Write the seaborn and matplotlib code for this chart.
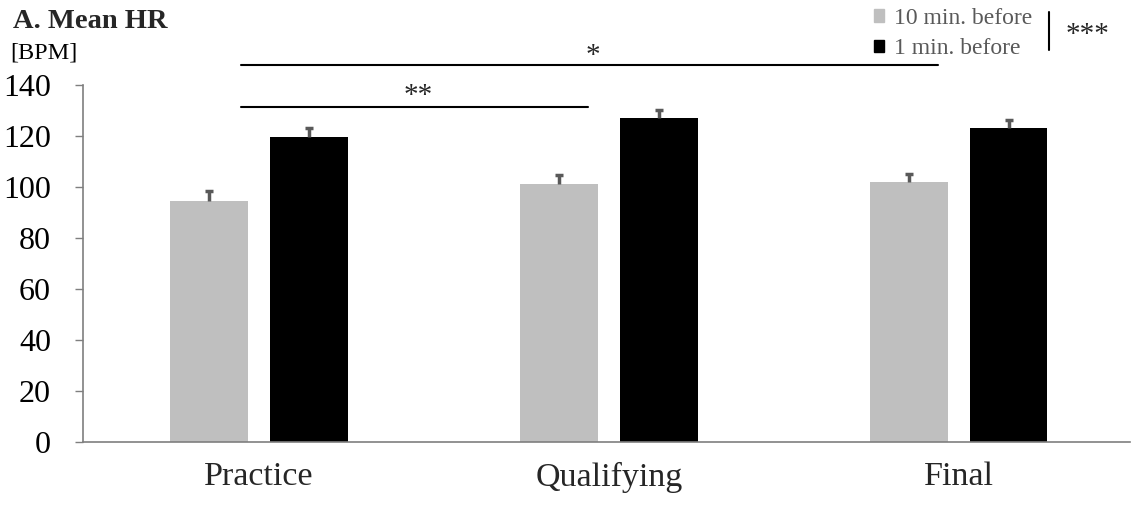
import matplotlib
matplotlib.use("Agg")
import matplotlib.pyplot as plt
import matplotlib.patches as mpatches
import seaborn as sns
import pandas as pd

# Mean heart rate per competition phase, two time points
phases = ["Practice", "Qualifying", "Final"]
timepoints = ["10 min. before", "1 min. before"]
hr_10min = [94.6, 101.0, 101.8]
hr_1min = [119.5, 127.1, 123.3]
err_10min = [3.9, 3.6, 3.4]
err_1min = [3.6, 3.1, 2.9]
y_ticks = [0, 20, 40, 60, 80, 100, 120, 140]

df = pd.DataFrame({
    "phase": phases * 2,
    "time": [timepoints[0]] * 3 + [timepoints[1]] * 3,
    "hr": hr_10min + hr_1min,
})

sns.set_theme(style="white")
plt.rcParams["font.family"] = ["Liberation Serif", "DejaVu Serif"]

W, H = 1132, 505
fig = plt.figure(figsize=(W / 100, H / 100), dpi=100)
ax = fig.add_axes([83 / W, 1 - 442 / H, 1 - 83 / W - 2 / W, (442 - 85) / H])

colors = {"10 min. before": "#bfbfbf", "1 min. before": "#000000"}
sns.barplot(data=df, x="phase", y="hr", hue="time", order=phases,
            hue_order=timepoints, palette=colors, errorbar=None,
            width=0.571, gap=0.22, ax=ax, legend=False, linewidth=0)

# one-sided (upper) error bars placed at each bar's center
errs = err_10min + err_1min
vals = hr_10min + hr_1min
bars = ax.patches[:6]
for bar, v, e in zip(bars, vals, errs):
    cx = bar.get_x() + bar.get_width() / 2
    _, caps, _ = ax.errorbar(cx, v, yerr=[[0], [e]], fmt="none", ecolor="#595959",
                             elinewidth=2.5, capsize=3, capthick=2.5)
    # keep only the upper cap
    caps[0].set_visible(False)

ax.set_ylim(0, 140)
ax.set_xlim(-0.503, 2.49)
ax.set_yticks(y_ticks)
ax.set_xlabel("")
ax.set_ylabel("")
ax.tick_params(axis="y", labelsize=23, length=6, width=1, color="#7f7f7f",
               left=True, pad=17, labelcolor="#000000")
ax.tick_params(axis="x", labelsize=24.5, length=0, pad=14)
for s in ["top", "right"]:
    ax.spines[s].set_visible(False)
for s in ["left", "bottom"]:
    ax.spines[s].set_color("#7f7f7f")
    ax.spines[s].set_linewidth(1.2)

# significance brackets between phases
ax.plot([-0.05, 1.94], [148.0, 148.0], color="#000000", lw=1.5, clip_on=False)
ax.text(0.955, 151.5, "*", ha="center", va="center", fontsize=21, clip_on=False)
ax.plot([-0.05, 0.94], [131.3, 131.3], color="#000000", lw=1.5, clip_on=False)
ax.text(0.455, 135.5, "**", ha="center", va="center", fontsize=21, clip_on=False)

# titles
fig.text(13 / W, 1 - 22 / H, "A. Mean HR", fontsize=20.5, fontweight="bold",
         va="center", ha="left")
fig.text(10 / W, 1 - 53 / H, "[BPM]", fontsize=17.5, va="center", ha="left",
         color="#000000")

# legend
handles = [mpatches.Patch(color=colors[t], label=t) for t in timepoints]
leg = fig.legend(handles=handles, loc="upper left",
                 bbox_to_anchor=(874 / W, 1 - 8 / H), frameon=False,
                 fontsize=17, handlelength=0.42, handleheight=0.42,
                 handletextpad=0.42, labelspacing=0.4, borderpad=0,
                 borderaxespad=0)
for t in leg.get_texts():
    t.set_color("#595959")

fig.add_artist(plt.Line2D([1049 / W, 1049 / W], [1 - 12 / H, 1 - 50 / H],
                          color="#000000", lw=1.5))
fig.text(1088 / W, 1 - 35 / H, "***", fontsize=21, ha="center", va="center")

fig.savefig("out.png", dpi=100)
